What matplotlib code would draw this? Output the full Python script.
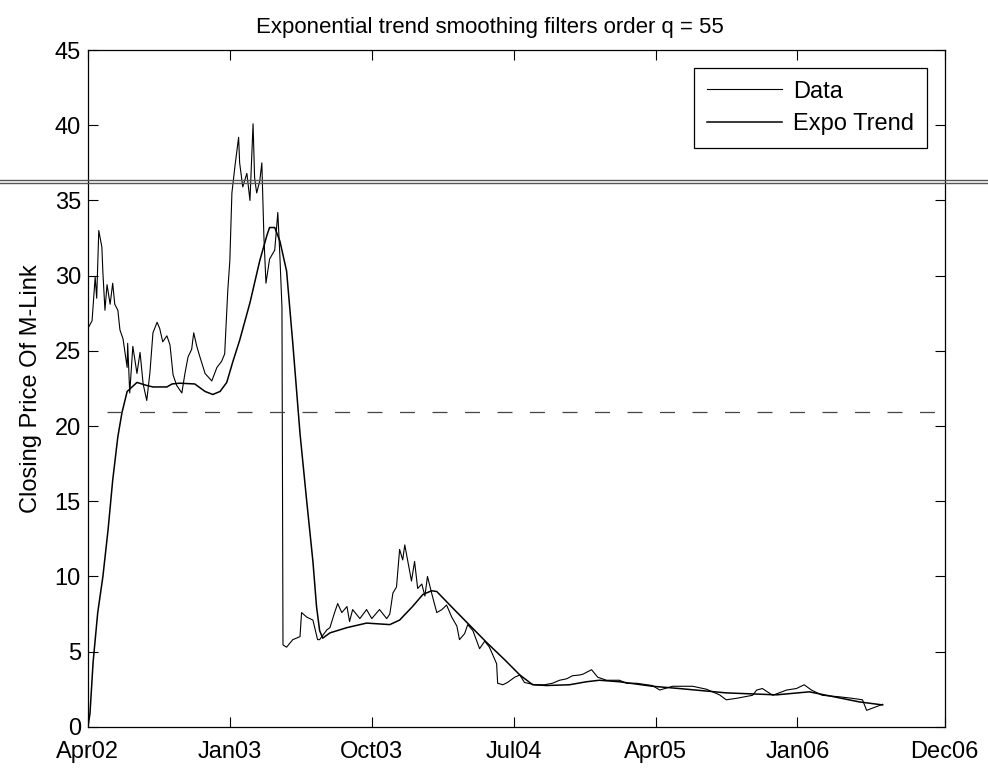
import matplotlib
matplotlib.use('Agg')
import matplotlib.pyplot as plt
from matplotlib.lines import Line2D

# days since Apr 2002 and closing price
data_days = [0, 8, 14, 17, 21, 27, 29, 33, 37, 43, 48, 52, 58, 62, 68, 76, 77, 81, 87, 95,
             101, 107, 114, 120, 126, 134, 139, 145, 153, 159, 165, 172, 182, 188, 194, 201,
             205, 211, 217, 227, 240, 250, 259, 265, 269, 271, 275, 279, 285, 292, 294, 300,
             308, 314, 320, 323, 327, 333, 337, 341, 345, 352, 362, 368, 372, 376, 378, 385,
             397, 411, 414, 424, 436, 445, 449, 463, 469, 478, 484, 492, 502, 507, 513, 527,
             540, 550, 565, 579, 585, 591, 598, 604, 610, 614, 620, 627, 633, 639, 647, 653,
             658, 666, 676, 686, 695, 705, 715, 720, 730, 736, 746, 759, 769, 778, 792, 794,
             804, 813, 827, 837, 846, 866, 885, 900, 914, 928, 939, 953, 959, 976, 988, 1005,
             1030, 1044, 1063, 1094, 1108, 1133, 1146, 1172, 1199, 1224, 1237, 1257, 1288,
             1296, 1307, 1327, 1354, 1373, 1388, 1402, 1423, 1456, 1481, 1501, 1509, 1528, 1540]
data_price = [26.5, 27.0, 29.9, 28.5, 33.0, 31.9, 30.2, 27.7, 29.4, 28.1, 29.5, 28.1, 27.7, 26.4,
              25.8, 23.9, 25.5, 22.2, 25.3, 23.5, 24.9, 22.8, 21.7, 23.5, 26.2, 26.9, 26.5, 25.6,
              26.0, 25.4, 23.4, 22.7, 22.2, 23.5, 24.6, 25.1, 26.2, 25.3, 24.6, 23.5, 23.0, 23.9,
              24.3, 24.8, 27.7, 29.0, 31.0, 35.5, 37.3, 39.2, 37.5, 35.9, 36.8, 35.0, 40.1, 36.5,
              35.5, 36.3, 37.5, 32.6, 29.5, 31.1, 31.7, 34.2, 31.3, 27.9, 5.45, 5.3, 5.8, 6.0,
              7.6, 7.3, 7.1, 5.8, 5.8, 6.45, 6.6, 7.6, 8.2, 7.6, 8.0, 7.0, 7.8, 7.2, 7.8, 7.2,
              7.8, 7.2, 7.5, 8.9, 9.3, 11.8, 11.1, 12.1, 11.0, 9.7, 11.0, 9.2, 9.5, 8.7, 10.0,
              8.9, 7.6, 7.8, 8.1, 7.3, 6.7, 5.8, 6.2, 6.8, 6.4, 5.2, 5.7, 5.3, 4.2, 2.9, 2.8,
              2.95, 3.3, 3.45, 2.95, 2.8, 2.8, 2.9, 3.1, 3.2, 3.4, 3.45, 3.5, 3.8, 3.3, 3.1,
              3.1, 2.9, 2.9, 2.75, 2.45, 2.7, 2.7, 2.7, 2.5, 2.13, 1.8, 1.9, 2.1, 2.45, 2.55,
              2.1, 2.45, 2.55, 2.8, 2.45, 2.1, 2.0, 1.9, 1.8, 1.1, 1.35, 1.5]

trend_days = [0, 4, 10, 19, 29, 39, 48, 58, 66, 76, 95, 114, 126, 153, 163, 178, 207, 227, 242,
              256, 269, 281, 294, 314, 333, 347, 352, 362, 372, 385, 397, 411, 424, 436, 443,
              449, 455, 469, 502, 540, 585, 604, 629, 649, 666, 676, 707, 740, 773, 808, 837,
              862, 889, 933, 966, 991, 1011, 1030, 1094, 1146, 1237, 1334, 1398, 1495, 1540]
trend_price = [0.0, 0.9, 4.3, 7.6, 10.0, 13.1, 16.4, 19.3, 20.9, 22.3, 22.9, 22.7, 22.6, 22.6,
               22.8, 22.85, 22.8, 22.3, 22.1, 22.3, 22.9, 24.3, 25.7, 28.2, 31.0, 32.7, 33.2,
               33.2, 32.3, 30.3, 25.5, 19.5, 15.0, 11.0, 8.0, 6.4, 5.9, 6.25, 6.6, 6.9, 6.8,
               7.1, 8.0, 8.8, 9.05, 9.0, 7.9, 6.75, 5.6, 4.45, 3.45, 2.8, 2.75, 2.8, 3.0, 3.1,
               3.05, 3.0, 2.7, 2.55, 2.26, 2.13, 2.33, 1.66, 1.46]

tick_days = [0, 275, 550, 825, 1100, 1375, 1660]
tick_labels = ['Apr02', 'Jan03', 'Oct03', 'Jul04', 'Apr05', 'Jan06', 'Dec06']

plt.rcParams['font.family'] = ['Liberation Sans', 'DejaVu Sans']

fig = plt.figure(figsize=(9.88, 7.7), dpi=100)
ax = fig.add_axes([0.089, 0.056, 0.867, 0.879])

ax.plot(data_days, data_price, color='black', lw=0.8, label='Data')
ax.plot(trend_days, trend_price, color='black', lw=1.1, label='Expo Trend')

ax.set_xlim(0, 1660)
ax.set_ylim(0, 45)
ax.set_xticks(tick_days)
ax.set_xticklabels(tick_labels)
ax.set_yticks(range(0, 46, 5))
ax.tick_params(direction='in', length=7, width=0.8, top=True, right=True,
               labelsize=17, pad=5)
ax.tick_params(axis='x', pad=10)
for s in ax.spines.values():
    s.set_linewidth(0.9)

ax.set_ylabel('Closing Price Of M-Link', fontsize=17, labelpad=9)
ax.set_title('Exponential trend smoothing filters order q = 55', fontsize=16, pad=12, x=0.469)

leg = ax.legend(loc='upper right', fontsize=17, handlelength=3.2, handletextpad=0.45,
                labelspacing=0.45, borderpad=0.55, fancybox=False,
                edgecolor='black', framealpha=1, borderaxespad=0.75)
leg.get_frame().set_linewidth(0.9)

# scanner streaks that cross the page
fig.add_artist(Line2D([0, 1], [0.766, 0.766], color='#555555', lw=1.0))
fig.add_artist(Line2D([0, 1], [0.762, 0.762], color='#555555', lw=1.0))
fig.add_artist(Line2D([0.108, 0.96], [0.465, 0.465], color='#444444', lw=0.9,
                      linestyle=(0, (12, 14))))

plt.savefig('out.png', dpi=100)
plt.close()
